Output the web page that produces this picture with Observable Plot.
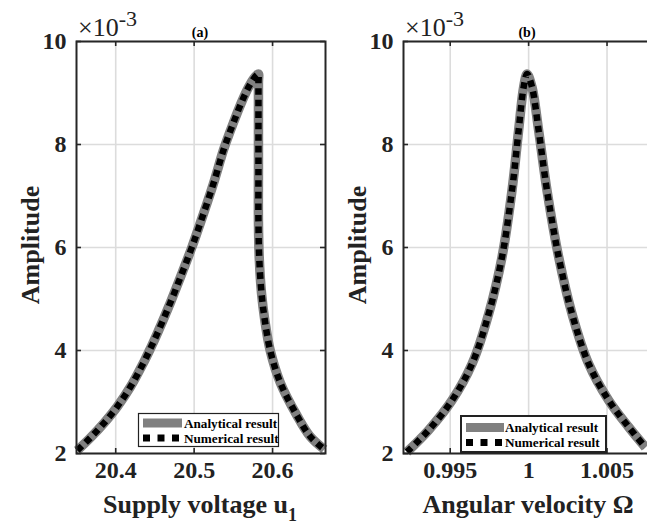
<!DOCTYPE html>
<html><head><meta charset="utf-8">
<script src="https://cdn.jsdelivr.net/npm/d3@7"></script>
<script src="https://cdn.jsdelivr.net/npm/@observablehq/plot@0.6"></script>
<style>
html,body{margin:0;padding:0;background:#fff;overflow:hidden;}
#wrap{position:relative;width:647px;height:525px;overflow:hidden;font-family:"Times New Roman",Times,"Liberation Serif",serif;}
.p{position:absolute;top:0;}
#over{position:absolute;left:0;top:0;}
svg text{font-family:"Times New Roman",Times,"Liberation Serif",serif;}
</style></head>
<body><div id="wrap"></div>
<script>
// Panel (a): supply voltage u1 vs amplitude (x10^-3)
const voltage = [20.351,20.368,20.385,20.402,20.419,20.436,20.444,20.453,20.470,20.485,20.497,20.510,20.525,20.538,20.550,20.561,20.570,20.576,20.580,20.582,20.582,20.582,20.582,20.582,20.583,20.586,20.590,20.597,20.610,20.631,20.648,20.666];
const ampA    = [2.06,2.31,2.59,2.91,3.30,3.78,4.03,4.33,4.94,5.52,6.00,6.57,7.26,7.92,8.42,8.84,9.13,9.28,9.35,9.37,9.2,8.5,7.5,6.5,5.8,5.1,4.6,4.0,3.37,2.74,2.33,2.08];
// Panel (b): angular velocity vs amplitude (x10^-3)
const omega = [0.99224,0.99361,0.99511,0.99639,0.99745,0.99830,0.99894,0.99936,0.99968,0.99990,1.00022,1.00064,1.00117,1.00192,1.00277,1.00383,1.00511,1.00639,1.00745];
const ampB  = [2.03,2.45,3.03,3.74,4.71,5.81,7.11,8.27,9.11,9.37,9.11,8.27,7.11,5.81,4.71,3.74,3.03,2.51,2.12];
const yTicks = [2,4,6,8,10];
const xTicksA = [20.4,20.5,20.6];
const xTicksB = [0.995,1,1.005];
const legendLabels = ["Analytical result","Numerical result"];
const panelTags = ["(a)","(b)"];
const xTitles = ["Supply voltage  u","Angular velocity \u03A9"];
const yTitle = "Amplitude";

const FONT = 'Times New Roman, Times, Liberation Serif, serif';
const W = 249, H = 412;

function panel(xs, ys, xDomain, xTicks){
  const data = xs.map((x,i)=>({x, y: ys[i]}));
  return Plot.plot({
    width: 330, height: 525,
    marginLeft: 76, marginRight: 5, marginTop: 41, marginBottom: 72,
    x: {domain: xDomain, axis: null},
    y: {domain: [2,10], axis: null},
    style: {fontFamily: FONT, background: "transparent", overflow: "visible", color: "#000"},
    marks: [
      Plot.gridX(xTicks, {stroke: "#dcdcdc", strokeOpacity: 1, strokeWidth: 1.6}),
      Plot.gridY(yTicks, {stroke: "#dcdcdc", strokeOpacity: 1, strokeWidth: 1.6}),
      Plot.line(data, {x: "x", y: "y", stroke: "#808080", strokeWidth: 9.5, curve: "catmull-rom", strokeLinecap: "butt"}),
      Plot.line(data, {x: "x", y: "y", stroke: "#000", strokeWidth: 6.5, curve: "catmull-rom", strokeDasharray: "6.5,5", strokeLinecap: "butt"}),
      Plot.frame({stroke: "#262626", strokeWidth: 2}),
      Plot.tickX(xTicks, {x: d=>d, insetTop: H-5, stroke: "#262626", strokeWidth: 1.6}),
      Plot.tickX(xTicks, {x: d=>d, insetBottom: H-5, stroke: "#262626", strokeWidth: 1.6}),
      Plot.tickY(yTicks, {y: d=>d, insetLeft: W-5, stroke: "#262626", strokeWidth: 1.6}),
      Plot.tickY(yTicks, {y: d=>d, insetRight: W-5, stroke: "#262626", strokeWidth: 1.6}),
      Plot.text(xTicks, {x: d=>d, frameAnchor: "bottom", dy: 24, text: d=>String(d), fontSize: 24, fontWeight: "bold", fill: "#222"}),
      Plot.text(yTicks, {y: d=>d, frameAnchor: "left", dx: -10, textAnchor: "end", text: d=>String(d), fontSize: 24, fontWeight: "bold", fill: "#222"})
    ]
  });
}

const wrap = document.getElementById("wrap");
const pa = panel(voltage, ampA, [20.35, 20.6675], xTicksA);
pa.classList.add("p"); pa.style.left = "0px";
const pb = panel(omega, ampB, [0.99202, 1.0079], xTicksB);
pb.classList.add("p"); pb.style.left = "327px";
wrap.appendChild(pa); wrap.appendChild(pb);

// overlay texts and legends
const svg = d3.select(wrap).append("svg").attr("id","over").attr("width",647).attr("height",525);

[0,327].forEach((off,i)=>{
  const t = svg.append("text").attr("x", 78+off).attr("y", 36).attr("font-size", 26).attr("fill","#222");
  t.append("tspan").text("\u00D710");
  t.append("tspan").attr("dy", -10.5).attr("font-size", 22).text("-3");
  svg.append("text").attr("x", 200+off).attr("y", 37).attr("text-anchor","middle")
    .attr("font-size", 14).attr("font-weight","bold").text(panelTags[i]);
  svg.append("text").attr("transform", `translate(${39+off},245) rotate(-90)`).attr("text-anchor","middle")
    .attr("font-size", 26).attr("font-weight","bold").attr("fill","#222").text(yTitle);
});
const xa = svg.append("text").attr("x", 200).attr("y", 513).attr("text-anchor","middle")
  .attr("font-size", 26).attr("font-weight","bold").attr("fill","#222");
xa.append("tspan").text(xTitles[0]);
xa.append("tspan").attr("dy", 8).attr("font-size", 18).text("1");
svg.append("text").attr("x", 528).attr("y", 513).attr("text-anchor","middle")
  .attr("font-size", 26).attr("font-weight","bold").attr("fill","#222").text(xTitles[1]);

function legend(x, y, w, h, bw, lx0, lx1, y1, y2, tx){
  svg.append("rect").attr("x", x).attr("y", y).attr("width", w).attr("height", h)
    .attr("fill","#fff").attr("stroke","#222").attr("stroke-width", bw);
  svg.append("line").attr("x1", lx0).attr("x2", lx1).attr("y1", y1).attr("y2", y1)
    .attr("stroke","#808080").attr("stroke-width", 9);
  svg.append("line").attr("x1", lx0).attr("x2", lx1).attr("y1", y2).attr("y2", y2)
    .attr("stroke","#000").attr("stroke-width", 7).attr("stroke-dasharray","7,7.5");
  svg.append("text").attr("x", tx).attr("y", y1+4.5).attr("font-size", 13.2).attr("font-weight","bold").text(legendLabels[0]);
  svg.append("text").attr("x", tx).attr("y", y2+4.5).attr("font-size", 13.2).attr("font-weight","bold").text(legendLabels[1]);
}
legend(138.5, 413.5, 140, 33, 1.2, 143, 182, 423, 438, 184);
legend(461, 416, 145, 36, 2, 466, 504, 427.5, 442.5, 505);
</script>
</body></html>
